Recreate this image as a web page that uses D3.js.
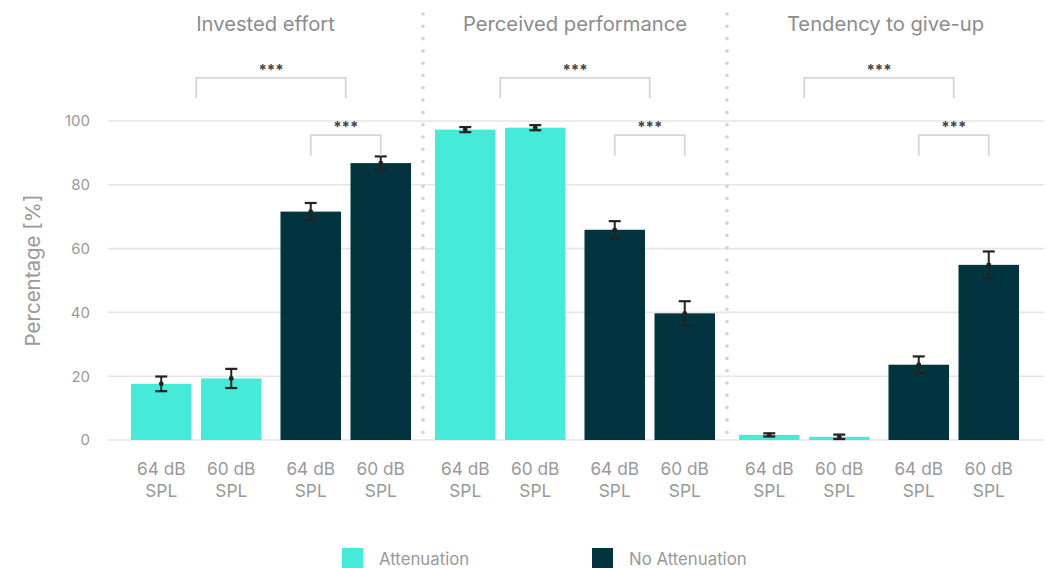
<!DOCTYPE html>
<html>
<head>
<meta charset="utf-8">
<script src="https://cdn.jsdelivr.net/npm/d3@7"></script>
<style>
  html, body { margin: 0; padding: 0; background: #fff; }
  svg { display: block; font-family: Inter, "Open Sans", sans-serif; }
</style>
</head>
<body>
<svg id="chart" width="1046" height="568"></svg>
<script>
// Measures shown as separate panels
const groups = ["Invested effort", "Perceived performance", "Tendency to give-up"];
// Listening conditions (legend) and presentation levels
const conditions = ["Attenuation", "No Attenuation"];
const levels = ["64 dB", "60 dB"];
const levelUnit = "SPL";

// Mean percentage per group, ordered [Att 64, Att 60, NoAtt 64, NoAtt 60]
const means = [
  [17.6, 19.3, 71.6, 86.8],
  [97.3, 97.9, 65.9, 39.7],
  [1.6, 1.0, 23.6, 54.9]
];
// Standard error for each mean
const errors = [
  [2.3, 3.0, 2.7, 2.1],
  [0.8, 0.8, 2.7, 3.8],
  [0.5, 0.7, 2.6, 4.2]
];
// Significance comparisons drawn above each panel
const comparisons = [
  { label: "***", from: "Attenuation", to: "No Attenuation", top: 113.5, leg: 107.2 },
  { label: "***", from: "No Attenuation|64 dB", to: "No Attenuation|60 dB", top: 95.6, leg: 89.1 }
];
const yTicks = [0, 20, 40, 60, 80, 100];
const yLabel = "Percentage [%]";
const colors = { "Attenuation": "#45EBD8", "No Attenuation": "#02343F" };

const svg = d3.select("#chart");

const plotLeft = 108, plotRight = 1044;
const y = d3.scaleLinear().domain([0, 100]).range([440, 121]);

const xGroup = d3.scaleBand().domain(groups).range([119, 1031])
  .paddingInner(24 / 304).paddingOuter(12 / 304);
const xCond = d3.scaleBand().domain(conditions).range([0, xGroup.bandwidth()])
  .paddingInner(0.127);
const xLevel = d3.scaleBand().domain(levels).range([0, xCond.bandwidth()])
  .paddingInner(0.136);

function barX(g, c, l) { return xGroup(g) + xCond(c) + xLevel(l); }
function barCenter(g, c, l) { return barX(g, c, l) + xLevel.bandwidth() / 2; }
function condCenter(g, c) { return xGroup(g) + xCond(c) + xCond.bandwidth() / 2; }

// Gridlines and y-axis tick labels
const yAxis = d3.axisLeft(y).tickValues(yTicks).tickSize(0).tickPadding(0);
const gAxis = svg.append("g").attr("transform", "translate(90,0)").call(yAxis);
gAxis.select(".domain").remove();
gAxis.selectAll("text").attr("font-size", 15).attr("fill", "#9a9a9a")
  .attr("font-family", "Inter, sans-serif");
svg.append("g").selectAll("line").data(yTicks).join("line")
  .attr("x1", plotLeft).attr("x2", plotRight)
  .attr("y1", d => y(d)).attr("y2", d => y(d))
  .attr("stroke", "#e6e6e6").attr("stroke-width", 1.6);

svg.append("text")
  .attr("transform", `translate(40,${(y(0) + y(100)) / 2 - 10}) rotate(-90)`)
  .attr("text-anchor", "middle")
  .attr("font-size", 20.5).attr("fill", "#9a9a9a")
  .text(yLabel);

// Dotted separators between panels
const seps = groups.slice(1).map(g => xGroup(g) - xGroup.step() * xGroup.paddingInner() / 2);
svg.append("g").selectAll("line").data(seps).join("line")
  .attr("x1", d => d).attr("x2", d => d)
  .attr("y1", 14).attr("y2", 440)
  .attr("stroke", "#d2d2d2").attr("stroke-width", 3.6)
  .attr("stroke-linecap", "round").attr("stroke-dasharray", "0 12.3");

// Panel titles, centred in each panel between separators
const edges = [plotLeft, ...seps, plotRight];
svg.append("g").selectAll("text").data(groups).join("text")
  .attr("x", (g, i) => (edges[i] + edges[i + 1]) / 2)
  .attr("y", 31)
  .attr("text-anchor", "middle")
  .attr("font-size", 20.2).attr("fill", "#8c8c8c")
  .text(d => d);

// Bars and error bars
const records = [];
groups.forEach((g, gi) => {
  conditions.forEach((c, ci) => {
    levels.forEach((l, li) => {
      const k = ci * 2 + li;
      records.push({ g, c, l, v: means[gi][k], e: errors[gi][k] });
    });
  });
});

svg.append("g").selectAll("rect").data(records).join("rect")
  .attr("x", d => barX(d.g, d.c, d.l))
  .attr("width", xLevel.bandwidth())
  .attr("y", d => y(d.v))
  .attr("height", d => y(0) - y(d.v))
  .attr("fill", d => colors[d.c]);

const eb = svg.append("g").attr("stroke", "#222").attr("stroke-width", 2);
records.forEach(d => {
  const cx = barCenter(d.g, d.c, d.l);
  eb.append("line").attr("x1", cx).attr("x2", cx)
    .attr("y1", y(d.v + d.e)).attr("y2", y(d.v - d.e));
  [d.v + d.e, d.v - d.e].forEach(t => {
    eb.append("line").attr("x1", cx - 6).attr("x2", cx + 6)
      .attr("y1", y(t)).attr("y2", y(t)).attr("stroke-width", 2.2);
  });
  eb.append("circle").attr("cx", cx).attr("cy", y(d.v)).attr("r", 2.4)
    .attr("fill", "#222").attr("stroke", "none");
});

// Category labels under each bar
const lab = svg.append("g").attr("text-anchor", "middle")
  .attr("font-size", 17.3).attr("fill", "#999");
records.forEach(d => {
  const cx = barCenter(d.g, d.c, d.l);
  lab.append("text").attr("x", cx).attr("y", 475).text(d.l);
  lab.append("text").attr("x", cx).attr("y", 497).text(levelUnit);
});

// Significance brackets
function refX(g, ref) {
  const [c, l] = ref.split("|");
  return l ? barCenter(g, c, l) : condCenter(g, c);
}
const br = svg.append("g");
groups.forEach(g => {
  comparisons.forEach(cmp => {
    const x1 = refX(g, cmp.from), x2 = refX(g, cmp.to);
    br.append("path")
      .attr("d", `M${x1},${y(cmp.leg)}V${y(cmp.top)}H${x2}V${y(cmp.leg)}`)
      .attr("fill", "none").attr("stroke", "#d6d6d6").attr("stroke-width", 1.8);
    br.append("text")
      .attr("x", (x1 + x2) / 2).attr("y", y(cmp.top) - 3)
      .attr("text-anchor", "middle")
      .attr("font-size", 15).attr("font-weight", "bold").attr("fill", "#444")
      .text(cmp.label);
  });
});

// Legend
const legX = [342, 592];
const leg = svg.append("g");
conditions.forEach((c, i) => {
  leg.append("rect").attr("x", legX[i]).attr("y", 548).attr("width", 21).attr("height", 20)
    .attr("fill", colors[c]);
  leg.append("text").attr("x", legX[i] + 37).attr("y", 564.5)
    .attr("font-size", 16.8).attr("fill", "#999").text(c);
});
</script>
</body>
</html>
